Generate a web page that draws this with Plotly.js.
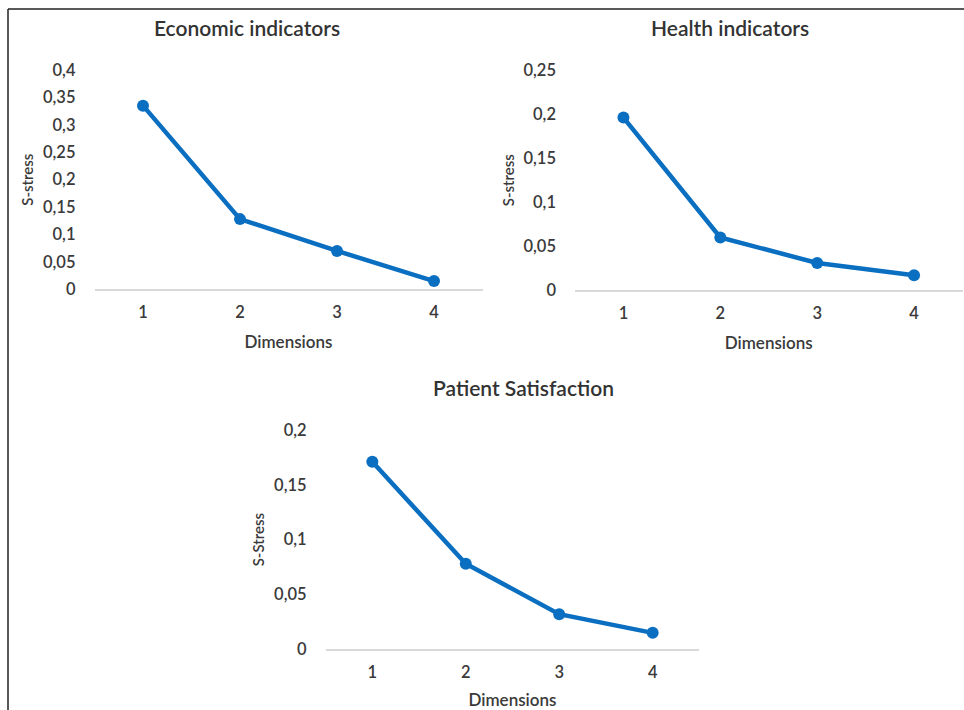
<!DOCTYPE html>
<html>
<head>
<meta charset="utf-8">
<script src="https://cdn.plot.ly/plotly-3.0.1.min.js"></script>
<style>html,body{margin:0;padding:0;background:#fff;}#chart{width:964px;height:710px;}</style>
</head>
<body>
<div id="chart"></div>
<script>
// ---- data ----
const dimensions = [1, 2, 3, 4];
const dimensionLabels = ["1", "2", "3", "4"];

const economicStress = [0.335, 0.128, 0.070, 0.015];
const healthStress = [0.196, 0.060, 0.031, 0.017];
const patientStress = [0.171, 0.078, 0.032, 0.015];

const economicTicks = [0, 0.05, 0.1, 0.15, 0.2, 0.25, 0.3, 0.35, 0.4];
const economicTickText = ["0", "0,05", "0,1", "0,15", "0,2", "0,25", "0,3", "0,35", "0,4"];
const healthTicks = [0, 0.05, 0.1, 0.15, 0.2, 0.25];
const healthTickText = ["0", "0,05", "0,1", "0,15", "0,2", "0,25"];
const patientTicks = [0, 0.05, 0.1, 0.15, 0.2];
const patientTickText = ["0", "0,05", "0,1", "0,15", "0,2"];

const titles = ["Economic indicators", "Health indicators", "Patient Satisfaction"];
const yTitles = ["S-stress", "S-stress", "S-Stress"];
const xTitle = "Dimensions";

// ---- styling ----
const W = 964, H = 710;
const FONT = "Lato, 'Open Sans', sans-serif";
const TXT = "#3a3a3a";
const BLUE = "#0b6fc1";

function px(x) { return x / W; }
function py(y) { return (H - y) / H; }

function trace(y, xa, ya) {
  return {
    x: dimensions, y: y, xaxis: xa, yaxis: ya,
    type: "scatter", mode: "lines+markers",
    line: {color: BLUE, width: 4.5},
    marker: {color: BLUE, size: 12},
    cliponaxis: false, showlegend: false, hoverinfo: "x+y"
  };
}

function xaxis(d0, d1, anchor) {
  return {
    domain: [px(d0), px(d1)], anchor: anchor,
    range: [0.5, 4.5], tickvals: dimensions, ticktext: dimensionLabels,
    showgrid: false, zeroline: false, showline: true, linecolor: "#d9d9d9", linewidth: 1.5,
    ticks: "", ticklabelstandoff: 7,
    tickfont: {family: FONT, size: 16.5, color: TXT, weight: 600},
    title: {text: xTitle, font: {family: FONT, size: 17, color: TXT, weight: 600}, standoff: 15},
    fixedrange: true
  };
}

function yaxis(top, bottom, maxv, tv, tt, anchor, ttl) {
  return {
    domain: [py(bottom), py(top)], anchor: anchor,
    range: [0, maxv], tickvals: tv, ticktext: tt,
    showgrid: false, zeroline: false, showline: false,
    ticks: "", ticklabelstandoff: 18,
    tickfont: {family: FONT, size: 16.5, color: TXT, weight: 600},
    title: {text: ttl, font: {family: FONT, size: 15, color: TXT, weight: 600}, standoff: 5},
    fixedrange: true
  };
}

const data = [
  trace(economicStress, "x", "y"),
  trace(healthStress, "x2", "y2"),
  trace(patientStress, "x3", "y3")
];

const titleFont = {family: FONT, size: 21, color: "#333", weight: 600};

const layout = {
  width: W, height: H,
  margin: {l: 0, r: 0, t: 0, b: 0},
  paper_bgcolor: "#fff", plot_bgcolor: "rgba(0,0,0,0)",
  font: {family: FONT, color: TXT},
  separators: ", ",
  xaxis: xaxis(94.5, 482.5, "y"),
  yaxis: yaxis(70, 289.3, 0.4, economicTicks, economicTickText, "x", yTitles[0]),
  xaxis2: xaxis(575, 962.5, "y2"),
  yaxis2: yaxis(70, 290.3, 0.25, healthTicks, healthTickText, "x2", yTitles[1]),
  xaxis3: xaxis(325.6, 699.4, "y3"),
  yaxis3: yaxis(430, 649.3, 0.2, patientTicks, patientTickText, "x3", yTitles[2]),
  annotations: [
    {text: titles[0], x: px(247), y: py(28), xref: "paper", yref: "paper", showarrow: false, xanchor: "center", yanchor: "middle", font: titleFont},
    {text: titles[1], x: px(730), y: py(28), xref: "paper", yref: "paper", showarrow: false, xanchor: "center", yanchor: "middle", font: titleFont},
    {text: titles[2], x: px(523), y: py(388), xref: "paper", yref: "paper", showarrow: false, xanchor: "center", yanchor: "middle", font: titleFont}
  ],
  shapes: [
    {type: "line", xref: "paper", yref: "paper", x0: px(8), x1: 1, y0: py(9), y1: py(9), line: {color: "#222", width: 1.5}},
    {type: "line", xref: "paper", yref: "paper", x0: px(8), x1: px(8), y0: py(9), y1: 0, line: {color: "#222", width: 1.5}}
  ]
};

Plotly.newPlot("chart", data, layout, {displayModeBar: false, staticPlot: true});
</script>
</body>
</html>
